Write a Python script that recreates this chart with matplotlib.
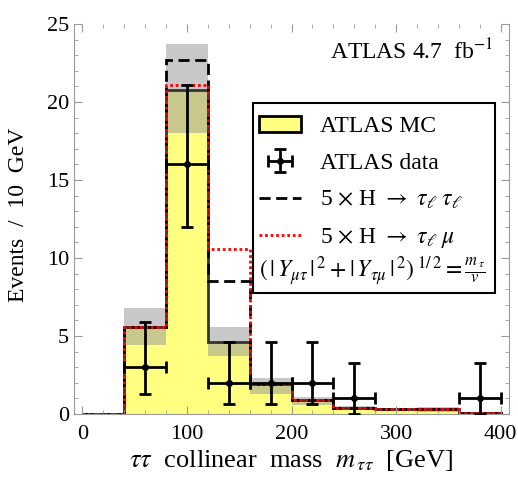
import numpy as np
import matplotlib.pyplot as plt
from matplotlib.patches import Rectangle

plt.rcParams['font.family'] = ['Liberation Serif', 'DejaVu Serif']
plt.rcParams['mathtext.fontset'] = 'stix'

# binning (GeV)
edges = np.arange(0, 401, 40)

# ATLAS MC expectation and its uncertainty band
mc = [0.0, 5.6, 20.8, 4.6, 1.9, 0.9, 0.4, 0.3, 0.3, 0.05]
mc_up = [0.0, 6.8, 23.7, 5.6, 2.3, 1.1, 0.5, 0.35, 0.45, 0.1]
mc_lo = [0.0, 4.4, 18.0, 3.7, 1.3, 0.55, 0.3, 0.2, 0.1, 0.0]

# MC + 5 x signal
sig_tautau = [0.0, 5.6, 22.7, 8.5, 1.9, 0.9, 0.4, 0.3, 0.3, 0.05]
sig_taumu = [0.0, 5.6, 21.1, 10.6, 1.9, 0.9, 0.4, 0.3, 0.3, 0.05]

# ATLAS data
data_x = [60, 100, 140, 180, 220, 260, 380]
data_y = [3, 16, 2, 2, 2, 1, 1]
data_lo = [1.3, 12.0, 0.65, 0.65, 0.65, 0.0, 0.0]
data_hi = [5.9, 21.1, 4.6, 4.6, 4.6, 3.3, 3.3]

fig = plt.figure(figsize=(5.18, 4.79), dpi=100)
ax = fig.add_axes([74/518, 65/479, 435/518, 390/479])

# uncertainty band: yellow below, olive overlap, gray above
ax.stairs(mc_lo, edges, baseline=0, fill=True, color='#FFFF80', lw=0)
ax.stairs(mc, edges, baseline=mc_lo, fill=True, color='#C8C88C', lw=0)
ax.stairs(mc_up, edges, baseline=mc, fill=True, color='#C8C8C8', lw=0)

ax.stairs(mc, edges, color='#333333', lw=2)
ax.stairs(sig_tautau, edges, color='black', lw=2, linestyle=(0, (4, 2)))
ax.stairs(sig_taumu, edges, color='red', lw=2, linestyle=(0, (1, 1)))

yerr = [np.array(data_y) - np.array(data_lo), np.array(data_hi) - np.array(data_y)]
eb = ax.errorbar(data_x, data_y, xerr=20, yerr=yerr, fmt='o', color='black',
                 ms=4, lw=2, capsize=4, capthick=2, zorder=5)

ax.set_xlim(-8, 408)
ax.set_ylim(0, 25)
ax.set_xticks([0, 100, 200, 300, 400])
ax.set_xticks(np.arange(0, 401, 20), minor=True)
ax.set_yticks([0, 5, 10, 15, 20, 25])
ax.set_yticks(np.arange(0, 26, 1), minor=True)
ax.tick_params(which='both', direction='in', color='#999999', top=True, right=True,
               labelsize=16)
ax.tick_params(which='major', length=6)
ax.tick_params(which='minor', length=3)
ax.tick_params(axis='x', pad=8)
for s in ['left', 'bottom', 'right']:
    ax.spines[s].set_color('#999999')
ax.spines['top'].set_visible(False)

ax.set_ylabel('Events  /  10  GeV', fontsize=17)
ax.yaxis.set_label_coords(-0.103, 0.51)
ax.set_xlabel(r'$\tau\tau$  collinear  mass  $m_{\,\tau\tau}$  [GeV]', fontsize=19, labelpad=3)

ax.text(0.965, 0.93, r'ATLAS 4.7  fb$^{-1}$', transform=ax.transAxes, fontsize=17,
        ha='right', va='center')

# legend
mc_patch = Rectangle((0, 0), 1, 1, facecolor='#FFFF80', edgecolor='black', lw=2)
l_tt, = ax.plot([], [], color='black', lw=2, linestyle=(0, (4, 2)))
l_tm, = ax.plot([], [], color='red', lw=2, linestyle=(0, (1, 1)))
ax.legend([mc_patch, eb, l_tt, l_tm],
          ['ATLAS MC', 'ATLAS data', r'5 $\times$ H $\rightarrow$ $\tau_\ell\;\tau_\ell$',
           r'5 $\times$ H $\rightarrow$ $\tau_\ell\;\mu$'],
          loc='upper left', bbox_to_anchor=(0.425, 0.765), frameon=False,
          fontsize=17, borderaxespad=0, borderpad=0, handlelength=1.8,
          handletextpad=0.8, labelspacing=0.64)
ax.add_patch(Rectangle((0.411, 0.310), 0.557, 0.487, transform=ax.transAxes,
                       facecolor='none', edgecolor='black', lw=1.5, zorder=6))
ax.text(0.425, 0.367,
        r'$(\,|\,Y_{\mu\tau}\,|^{\,2}+|\,Y_{\tau\mu}\,|^{\,2})^{\;1/\,2}=\frac{m_{\,\tau}}{v}$',
        transform=ax.transAxes, fontsize=17, ha='left', va='center', zorder=7)

fig.savefig('out.png', dpi=100)
